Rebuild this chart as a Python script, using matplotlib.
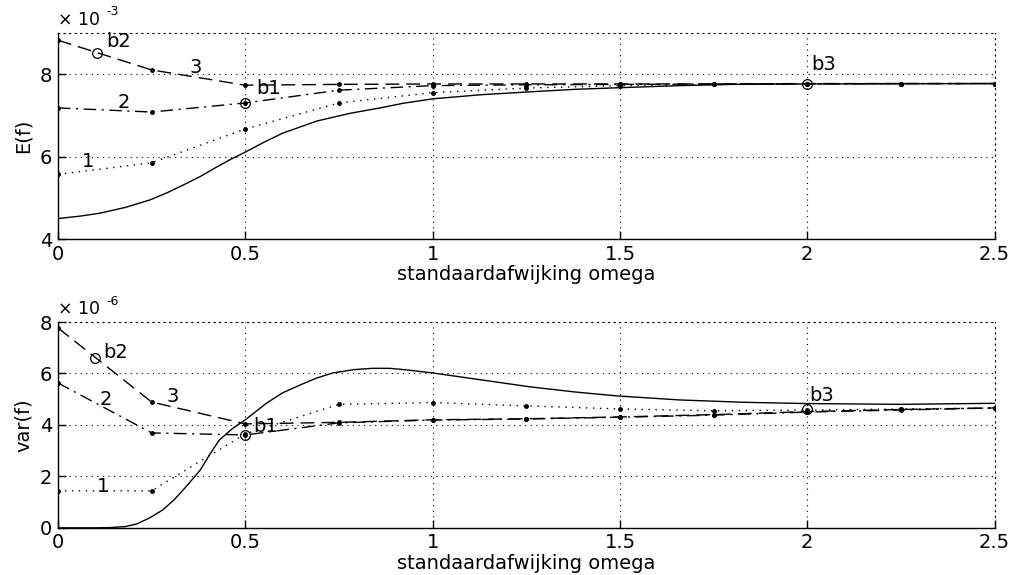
import matplotlib
matplotlib.use("Agg")
import matplotlib.pyplot as plt

plt.rcParams['font.family'] = ['DejaVu Sans']

# sample grid of the simulated points
omega = [0, 0.25, 0.5, 0.75, 1.0, 1.25, 1.5, 1.75, 2.0, 2.25, 2.5]

# E(f), in units of 1e-3
mean_1 = [5.57, 5.85, 6.67, 7.30, 7.55, 7.66, 7.72, 7.75, 7.76, 7.77, 7.77]
mean_2 = [7.18, 7.08, 7.30, 7.61, 7.72, 7.74, 7.75, 7.76, 7.76, 7.77, 7.77]
mean_3 = [8.82, 8.10, 7.73, 7.75, 7.76, 7.76, 7.76, 7.76, 7.77, 7.77, 7.77]
mean_ref_x = [0, 0.06, 0.112, 0.18, 0.245, 0.29, 0.334, 0.38, 0.424, 0.46,
              0.5, 0.55, 0.6, 0.65, 0.69, 0.78, 0.86, 0.92, 1.0, 1.13,
              1.26, 1.38, 1.5, 1.66, 1.8, 2.0, 2.5]
mean_ref = [4.50, 4.56, 4.63, 4.77, 4.95, 5.12, 5.31, 5.52, 5.75, 5.93,
            6.11, 6.35, 6.57, 6.73, 6.86, 7.05, 7.18, 7.29, 7.40, 7.50,
            7.57, 7.63, 7.67, 7.72, 7.75, 7.76, 7.77]

# var(f), in units of 1e-6
var_1 = [1.44, 1.44, 3.65, 4.80, 4.87, 4.74, 4.62, 4.55, 4.58, 4.62, 4.66]
var_2 = [5.63, 3.69, 3.61, 4.08, 4.19, 4.23, 4.30, 4.38, 4.50, 4.58, 4.66]
var_3 = [7.77, 4.89, 4.04, 4.10, 4.20, 4.24, 4.31, 4.40, 4.52, 4.60, 4.66]
var_ref_x = [0, 0.05, 0.1, 0.14, 0.18, 0.21, 0.245, 0.28, 0.31, 0.345,
             0.38, 0.405, 0.43, 0.465, 0.5, 0.557, 0.6, 0.646, 0.69, 0.734,
             0.79, 0.84, 0.885, 0.93, 1.0, 1.13, 1.26, 1.38, 1.49, 1.66,
             1.83, 2.0, 2.25, 2.5]
var_ref = [0.0, 0.0, 0.0, 0.01, 0.05, 0.15, 0.39, 0.70, 1.09, 1.65,
           2.25, 2.85, 3.40, 3.85, 4.20, 4.85, 5.25, 5.55, 5.82, 6.02,
           6.15, 6.20, 6.20, 6.14, 6.02, 5.75, 5.48, 5.28, 5.13, 4.97,
           4.88, 4.83, 4.80, 4.84]

# highlighted operating points b1, b2, b3
mean_b = {'b1': (0.5, 7.30), 'b2': (0.104, 8.51), 'b3': (2.0, 7.77)}
var_b = {'b1': (0.5, 3.61), 'b2': (0.1, 6.6), 'b3': (2.0, 4.60)}

xticks = [0, 0.5, 1, 1.5, 2, 2.5]
FS = 14

fig = plt.figure(figsize=(10.17, 5.75), dpi=100)
ax1 = fig.add_axes([0.057, 0.584, 0.921, 0.359])
ax2 = fig.add_axes([0.057, 0.082, 0.921, 0.358])


def style_axes(ax, ylim, yticks, ylabel, exponent):
    ax.set_xlim(0, 2.5)
    ax.set_ylim(*ylim)
    ax.set_xticks(xticks)
    ax.set_xticklabels([f"{t:g}" for t in xticks])
    ax.set_yticks(yticks)
    ax.grid(True, color='black', linestyle=(0, (1, 4)), linewidth=0.8)
    for side in ('top', 'right'):
        ax.spines[side].set_linestyle((0, (1, 4)))
        ax.spines[side].set_linewidth(0.8)
    for side in ('left', 'bottom'):
        ax.spines[side].set_linewidth(1.0)
    ax.tick_params(direction='in', length=6, width=1.0, labelsize=FS, pad=4)
    ax.set_xlabel('standaardafwijking omega', fontsize=FS, labelpad=1)
    ax.set_ylabel(ylabel, fontsize=FS, labelpad=5)
    ax.text(0.0, 1.02, '× 10', transform=ax.transAxes, fontsize=FS - 1.5,
            ha='left', va='bottom')
    ax.text(0.052, 1.07, exponent, transform=ax.transAxes, fontsize=FS - 5,
            ha='left', va='bottom')


def draw_series(ax, s1, s2, s3, ref_x, ref, marks):
    ax.plot(ref_x, ref, color='black', linewidth=1.0, linestyle='-')
    ax.plot(omega, s1, color='black', linewidth=1.0, linestyle=(0, (1, 4)),
            marker='o', markersize=2.5)
    ax.plot(omega, s2, color='black', linewidth=1.0,
            linestyle=(0, (9, 4, 1.5, 4)), marker='o', markersize=2.5)
    ax.plot(omega, s3, color='black', linewidth=1.0, linestyle=(0, (10, 5)),
            marker='o', markersize=2.5)
    for name, (x, y) in marks.items():
        ax.plot([x], [y], marker='o', markersize=7, markerfacecolor='none',
                markeredgecolor='black', markeredgewidth=0.9)


draw_series(ax1, mean_1, mean_2, mean_3, mean_ref_x, mean_ref, mean_b)
style_axes(ax1, (4, 9), [4, 6, 8], 'E(f)', '-3')
for txt, (x, y) in [('b2', (0.13, 8.78)), ('3', (0.35, 8.15)), ('b1', (0.53, 7.66)),
                    ('2', (0.16, 7.32)), ('1', (0.064, 5.87)), ('b3', (2.01, 8.22))]:
    ax1.text(x, y, txt, fontsize=FS, ha='left', va='center')

draw_series(ax2, var_1, var_2, var_3, var_ref_x, var_ref, var_b)
style_axes(ax2, (0, 8), [0, 2, 4, 6, 8], 'var(f)', '-6')
for txt, (x, y) in [('b2', (0.12, 6.83)), ('3', (0.29, 5.09)), ('2', (0.11, 4.97)),
                    ('b1', (0.52, 3.92)), ('1', (0.104, 1.6)), ('b3', (2.005, 5.16))]:
    ax2.text(x, y, txt, fontsize=FS, ha='left', va='center')

fig.savefig('out.png', dpi=100)
